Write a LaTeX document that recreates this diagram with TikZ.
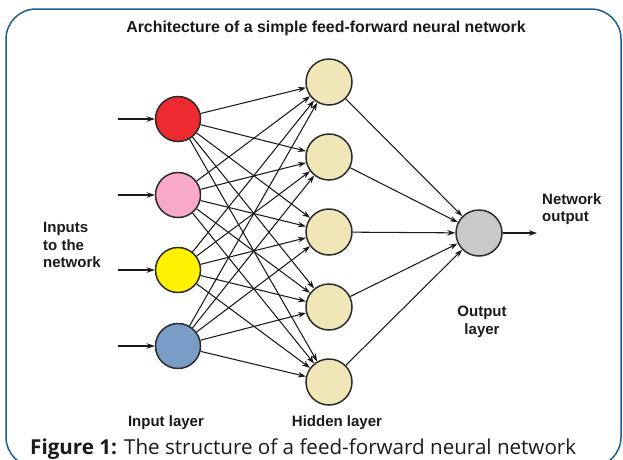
\documentclass[tikz,border=0pt]{standalone}
\usepackage{fontspec}
\setmainfont{Liberation Sans}
\newfontfamily\capfont{Open Sans}
\usetikzlibrary{arrows.meta}
\definecolor{framecol}{HTML}{1F5F8B}
\definecolor{nodeline}{HTML}{2B2B2B}
\definecolor{inred}{HTML}{EE2A31}
\definecolor{inpink}{HTML}{F9AACB}
\definecolor{inyellow}{HTML}{FFF200}
\definecolor{inblue}{HTML}{7B9CC6}
\definecolor{hidcol}{HTML}{F1E6B8}
\definecolor{outcol}{HTML}{C9C9C9}
\definecolor{txtcol}{HTML}{1A1A1A}
\begin{document}
\begin{tikzpicture}[x=1pt,y=-1pt,
  neuron/.style={circle,draw=nodeline,line width=1.5pt,minimum size=45pt,inner sep=0pt},
  hidden/.style={neuron,fill=hidcol,minimum size=46pt},
  link/.style={draw=black!90,line width=1.05pt,-{Stealth[length=8pt,width=5.5pt]}},
  lbl/.style={font=\bfseries\fontsize{15}{17.5}\selectfont,text=txtcol,inner sep=0pt}]
\useasboundingbox (0,0) rectangle (623,459);
\draw[framecol,line width=1.5pt,rounded corners=30pt] (6,9) rectangle (621,467);
% title
\node[lbl,font=\bfseries\fontsize{15.9}{18}\selectfont] (title) at (326,28) {Architecture of a simple feed-forward neural network};
% input layer
\node[neuron,fill=inred] (i1) at (178,119) {};
\node[neuron,fill=inpink] (i2) at (178,195) {};
\node[neuron,fill=inyellow] (i3) at (178,270) {};
\node[neuron,fill=inblue] (i4) at (178,346) {};
% hidden layer
\foreach \k/\y in {1/82,2/157,3/232,4/307,5/382}
  \node[hidden] (h\k) at (329,\y) {};
% output
\node[neuron,fill=outcol,minimum size=46pt] (o) at (479,233) {};
% input arrows
\foreach \k/\y in {1/119,2/195,3/270,4/346}{
  \coordinate (s\k) at (118,\y);
  \draw[link] (s\k) -- (i\k);
}
% connections
\foreach \i in {1,...,4}
  \foreach \h in {1,...,5}
    \draw[link] (i\i) -- (h\h);
\foreach \h in {1,...,5}
  \draw[link] (h\h) -- (o);
\coordinate (oend) at (537,233);
\draw[link] (o) -- (oend);
% labels
\node[lbl,align=left,anchor=west] (inlbl) at (43,245) {Inputs\\to the\\network};
\node[lbl,align=left,anchor=west] (netout) at (542,209) {Network\\output};
\node[lbl,align=center] (outlbl) at (482,322) {Output\\layer};
\node[lbl] (inlay) at (166,423) {Input layer};
\node[lbl] (hidlay) at (337,423) {Hidden layer};
% caption
\node[anchor=west,inner sep=0pt,text=txtcol] (cap) at (30,449)
  {\capfont\fontsize{20.6}{22}\selectfont\textbf{Figure 1:} The structure of a feed-forward neural network};
\end{tikzpicture}
\end{document}
